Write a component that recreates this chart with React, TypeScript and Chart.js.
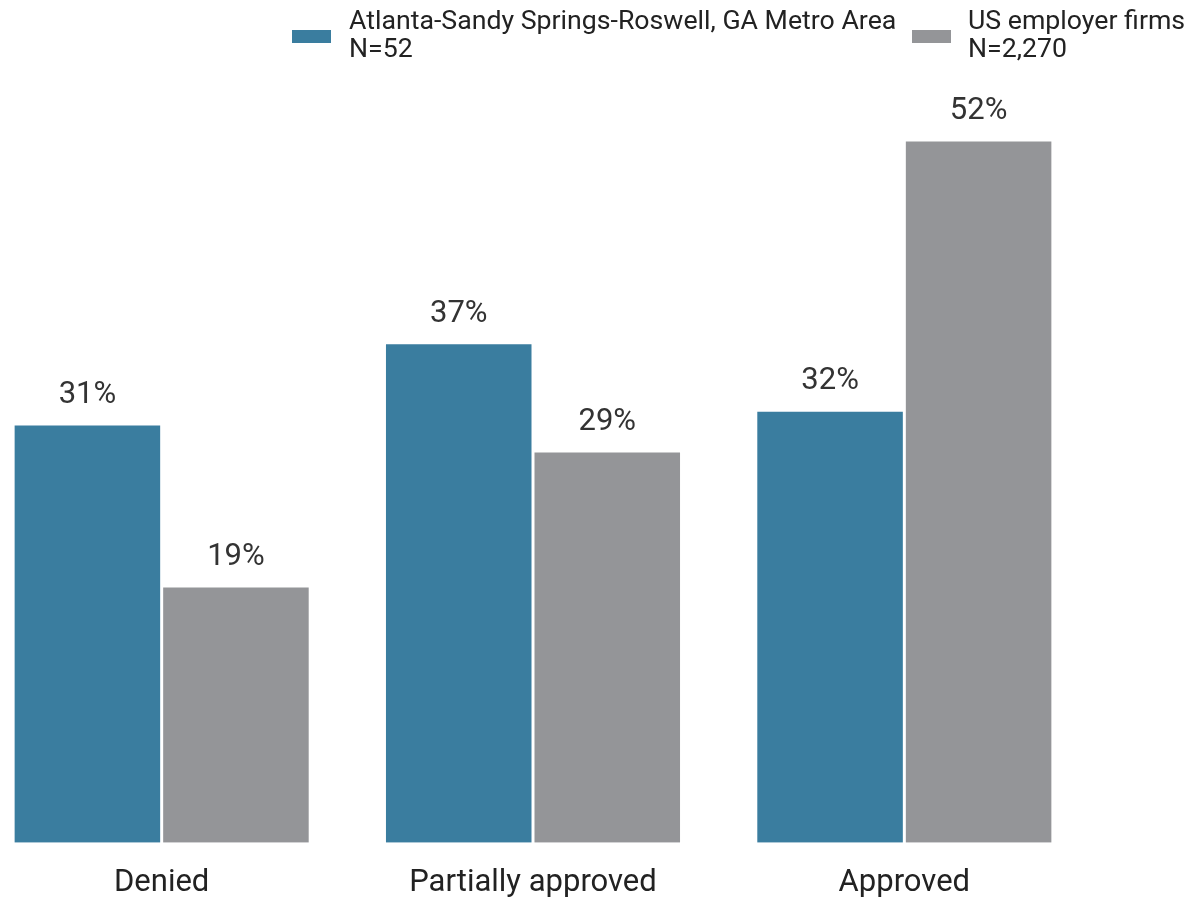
import React, { useEffect, useRef } from "react";
import { Chart, registerables } from "chart.js";

Chart.register(...registerables);

const categories = ["Denied", "Partially approved", "Approved"];
const atlantaValues = [31, 37, 32];
const usValues = [19, 29, 52];
const seriesNames = ["Atlanta-Sandy Springs-Roswell, GA Metro Area", "US employer firms"];
const seriesNotes = ["N=52", "N=2,270"];

const BLUE = "#3a7d9f";
const GRAY = "#949598";
const FONT = "Roboto, 'Noto Sans', sans-serif";

const valueLabels = {
  id: "valueLabels",
  afterDatasetsDraw(chart: any) {
    const ctx = chart.ctx;
    ctx.save();
    ctx.font = `31px ${FONT}`;
    ctx.fillStyle = "#333333";
    ctx.textAlign = "center";
    ctx.textBaseline = "alphabetic";
    chart.data.datasets.forEach((ds: any, i: number) => {
      const meta = chart.getDatasetMeta(i);
      meta.data.forEach((bar: any, j: number) => {
        ctx.fillText(`${ds.data[j]}%`, bar.x, bar.y - 21);
      });
    });
    ctx.restore();
  },
};

export default function App() {
  const ref = useRef<HTMLCanvasElement>(null);
  useEffect(() => {
    if (!ref.current) return;
    const chart = new Chart(ref.current, {
      type: "bar",
      data: {
        labels: categories,
        datasets: [
          {
            label: seriesNames[0],
            data: atlantaValues,
            backgroundColor: BLUE,
            borderColor: "#ffffff",
            borderWidth: 1.5,
            categoryPercentage: 0.8,
            barPercentage: 1,
          },
          {
            label: seriesNames[1],
            data: usValues,
            backgroundColor: GRAY,
            borderColor: "#ffffff",
            borderWidth: 1.5,
            categoryPercentage: 0.8,
            barPercentage: 1,
          },
        ],
      },
      options: {
        responsive: false,
        animation: false,
        layout: { padding: { top: 32, bottom: 4, left: 0, right: 0 } },
        plugins: { legend: { display: false }, tooltip: { enabled: false } },
        scales: {
          x: {
            grid: { display: false, drawTicks: false },
            border: { display: false },
            ticks: { color: "#222222", font: { family: FONT, size: 31 }, padding: 22 },
          },
          y: { display: false, min: 0, max: 60 },
        },
      },
      plugins: [valueLabels],
    });
    return () => chart.destroy();
  }, []);

  const legendText: React.CSSProperties = {
    position: "absolute",
    top: 7,
    fontFamily: FONT,
    fontSize: 26.7,
    lineHeight: "27.5px",
    color: "#222222",
    whiteSpace: "nowrap",
  };
  const box: React.CSSProperties = { position: "absolute", top: 30, width: 39, height: 13 };

  return (
    <div style={{ position: "absolute", left: 0, top: 0, width: 1194, height: 898, overflow: "hidden" }}>
      <canvas ref={ref} width={1114} height={928} style={{ position: "absolute", left: -24, top: 0 }} />
      <div style={{ ...box, left: 292, background: BLUE }} />
      <div style={{ ...legendText, left: 349 }}>
        {seriesNames[0]}
        <br />
        {seriesNotes[0]}
      </div>
      <div style={{ ...box, left: 912, background: GRAY }} />
      <div style={{ ...legendText, left: 968 }}>
        {seriesNames[1]}
        <br />
        {seriesNotes[1]}
      </div>
    </div>
  );
}
